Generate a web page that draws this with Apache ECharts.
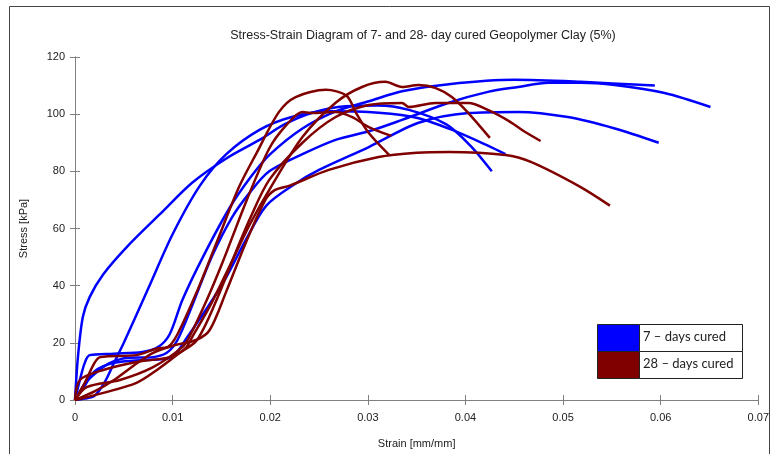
<!DOCTYPE html>
<html>
<head>
<meta charset="utf-8">
<script src="https://cdn.jsdelivr.net/npm/echarts@6/dist/echarts.min.js"></script>
<style>
  html, body { margin: 0; padding: 0; background: #fff; }
  #chart { width: 772px; height: 454px; }
</style>
</head>
<body>
<div id="chart"></div>
<script>
// 7 days cured, [strain, stress]
const blue7a = [[0,0],[0.0003,15],[0.0008,29],[0.0015,36],[0.0029,44],[0.0053,53.5],[0.0087,65],[0.012,76],[0.0155,84.5],[0.0189,91],[0.0215,96.5],[0.0243,100.5],[0.0277,102.8],[0.031,103],[0.0342,101.5],[0.038,96.5],[0.0405,89],[0.0427,80]];
const blue7b = [[0,0],[0.001,0.5],[0.002,1.5],[0.003,6],[0.004,13],[0.005,20],[0.0075,39],[0.01,58],[0.0128,75],[0.0155,86],[0.0189,94.5],[0.0222,99],[0.026,101],[0.0311,100.5],[0.0352,98.6],[0.039,94],[0.0423,89],[0.0441,86]];
const blue7c = [[0,0],[0.0005,7],[0.001,13],[0.0015,15.7],[0.004,16.2],[0.0069,16.8],[0.0085,18.5],[0.0097,23],[0.011,35],[0.0131,50],[0.0158,67],[0.018,78],[0.02,86],[0.0233,95],[0.0267,101],[0.0301,104.5],[0.0335,108],[0.0383,110.5],[0.045,112],[0.0518,111.3],[0.0594,110]];
const blue7d = [[0,0],[0.0005,3],[0.0012,6.5],[0.0025,10.5],[0.0036,13],[0.0053,14.7],[0.008,15],[0.0094,16.5],[0.0105,21],[0.012,33],[0.014,50],[0.0161,64],[0.018,73],[0.0199,80],[0.0233,86],[0.0267,91],[0.0301,94],[0.0335,98],[0.0383,104],[0.0423,107.8],[0.0454,109.5],[0.0485,111],[0.0518,111],[0.0553,110.2],[0.0604,107.4],[0.0651,102.5]];
const blue7e = [[0,0],[0.001,5],[0.002,10],[0.004,13],[0.007,14],[0.0095,14.5],[0.0105,17],[0.0115,22],[0.0135,32],[0.0155,43],[0.0175,56],[0.0196,68],[0.0225,75.5],[0.025,80.5],[0.0301,88.5],[0.0352,97],[0.0403,100.4],[0.0454,100.8],[0.0505,99],[0.0553,95],[0.0598,90]];

// 28 days cured, [strain, stress]
const red28a = [[0,0],[0.001,6],[0.002,13],[0.0026,15],[0.0063,15.7],[0.0084,18],[0.0095,18.5],[0.0105,23],[0.0125,38],[0.0145,55],[0.0168,74.5],[0.0186,86.4],[0.0209,100.8],[0.0226,106],[0.0257,108.5],[0.0278,106.5],[0.0288,100.4],[0.0301,93.4],[0.0322,85.7]];
const red28b = [[0,0],[0.0005,7],[0.0029,10.5],[0.0063,13.3],[0.0097,15],[0.0113,18],[0.012,22],[0.014,34],[0.016,48],[0.018,62],[0.0199,73.5],[0.0233,92],[0.0267,104],[0.0294,109.5],[0.0318,111.3],[0.0335,109.5],[0.0352,110.2],[0.0369,109.2],[0.0386,106],[0.0403,100.4],[0.0425,91.7]];
const red28c = [[0,0],[0.0012,4.5],[0.0046,7],[0.008,11.5],[0.011,18.5],[0.0117,22],[0.0135,35],[0.0151,48],[0.0176,70],[0.0199,88],[0.0216,96],[0.0233,100.8],[0.0243,100.4],[0.0267,100.8],[0.0284,99],[0.0301,95.5],[0.0324,92.4]];
const red28d = [[0,0],[0.0029,2.5],[0.0063,6],[0.0084,10.5],[0.0107,16.4],[0.0125,21],[0.0145,35],[0.0165,52],[0.018,64],[0.0199,77],[0.0233,90],[0.0267,99],[0.0301,103.2],[0.0335,103.9],[0.0342,102.5],[0.0369,103.9],[0.0403,103.9],[0.0423,101.5],[0.0445,97.5],[0.046,94],[0.0477,90.6]];
const red28e = [[0,0],[0.002,3],[0.004,7],[0.006,12],[0.008,16.5],[0.01,19],[0.0124,21],[0.0138,24.5],[0.0155,38],[0.0175,55],[0.0195,70],[0.0205,73.5],[0.022,75],[0.026,80.5],[0.0311,85],[0.035,86.5],[0.0383,86.8],[0.0441,85.7],[0.0467,83.3],[0.0518,74.5],[0.0548,68]];

const legendNames = ['7 \u2013 days cured', '28 \u2013 days cured'];
const BLUE = '#0000ff';
const RED = '#800000';
const FONT = "'Liberation Sans Narrow', 'Liberation Sans', Arial, sans-serif";

let chart = echarts.init(document.getElementById('chart'), null, { renderer: 'canvas' });

let makeSeries = (data, color) => ({
  type: 'line',
  data: data,
  showSymbol: false,
  smooth: 0.3,
  animation: false,
  lineStyle: { color: color, width: 2.5 }
});

let series = [];
[blue7a, blue7b, blue7c, blue7d, blue7e].forEach(d => series.push(makeSeries(d, BLUE)));
[red28a, red28b, red28c, red28d, red28e].forEach(d => series.push(makeSeries(d, RED)));

let axisLine = { show: true, lineStyle: { color: '#808080', width: 1 } };
let axisTick = { show: true, inside: true, length: 5, lineStyle: { color: '#808080' } };
let labelStyle = { color: '#222', fontSize: 11, fontFamily: FONT };

let option = {
  animation: false,
  title: {
    text: 'Stress-Strain Diagram of 7- and 28- day cured Geopolymer Clay (5%)',
    left: 418,
    top: 24,
    textAlign: 'center',
    textStyle: { fontSize: 12.5, fontWeight: 'normal', color: '#222', fontFamily: FONT }
  },
  grid: { left: 75, top: 57, right: 11, bottom: 54 },
  xAxis: [{
    type: 'value', min: 0, max: 0.07, interval: 0.01, position: 'bottom',
    axisLine: axisLine, axisTick: axisTick, splitLine: { show: false },
    axisLabel: Object.assign({ margin: 12, formatter: v => String(+v.toFixed(2)) }, labelStyle),
    name: 'Strain [mm/mm]', nameLocation: 'middle', nameGap: 38,
    nameTextStyle: labelStyle
  }, {
    type: 'value', min: 0, max: 0.07, interval: 0.01, position: 'top',
    axisLine: axisLine, axisTick: axisTick, splitLine: { show: false },
    axisLabel: { show: false }
  }],
  yAxis: [{
    type: 'value', min: 0, max: 120, interval: 20, position: 'left',
    axisLine: axisLine, axisTick: axisTick, splitLine: { show: false },
    axisLabel: Object.assign({ margin: 10 }, labelStyle),
    name: 'Stress [kPa]', nameLocation: 'middle', nameGap: 46, nameRotate: 90,
    nameTextStyle: labelStyle
  }, {
    type: 'value', min: 0, max: 120, interval: 20, position: 'right',
    axisLine: axisLine, axisTick: axisTick, splitLine: { show: false },
    axisLabel: { show: false }
  }],
  series: series,
  graphic: [
    { type: 'rect', shape: { x: 9.5, y: 6.5, width: 760, height: 470 },
      style: { fill: 'none', stroke: '#444', lineWidth: 1 }, silent: true },
    { type: 'rect', shape: { x: 597.5, y: 324.5, width: 42, height: 27 },
      style: { fill: BLUE, stroke: '#222', lineWidth: 1 }, z: 100 },
    { type: 'rect', shape: { x: 597.5, y: 351.5, width: 42, height: 27 },
      style: { fill: RED, stroke: '#222', lineWidth: 1 }, z: 100 },
    { type: 'rect', shape: { x: 639.5, y: 324.5, width: 103, height: 27 },
      style: { fill: '#fff', stroke: '#222', lineWidth: 1 }, z: 100 },
    { type: 'rect', shape: { x: 639.5, y: 351.5, width: 103, height: 27 },
      style: { fill: '#fff', stroke: '#222', lineWidth: 1 }, z: 100 },
    { type: 'text', left: 643, top: 330, z: 101,
      style: { text: legendNames[0], fill: '#222', fontSize: 13, fontFamily: 'Lato, sans-serif' } },
    { type: 'text', left: 643, top: 357, z: 101,
      style: { text: legendNames[1], fill: '#222', fontSize: 13, fontFamily: 'Lato, sans-serif' } }
  ]
};

chart.setOption(option);
</script>
</body>
</html>
